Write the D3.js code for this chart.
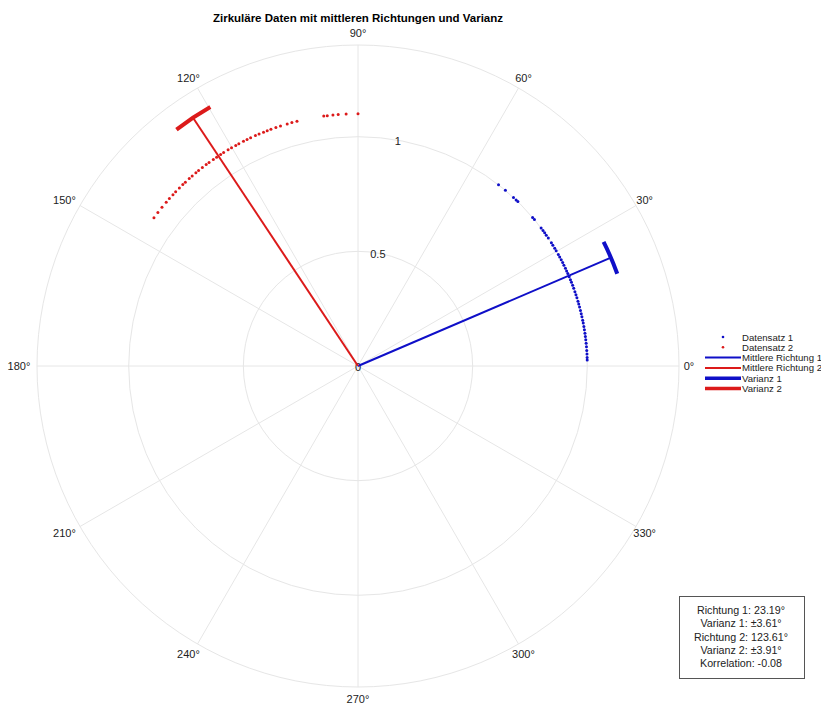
<!DOCTYPE html>
<meta charset="utf-8">
<head>
<title>Zirkuläre Daten</title>
<style>
body { margin: 0; background-color: #FFF; }
text { font-family: 'Liberation Sans', Arial, sans-serif; fill: #222; }
.grid { fill: none; stroke: #e6e6e6; stroke-width: 1px; }
.title { font-weight: bold; font-size: 11.5px; fill: #000; }
.angle-label { font-size: 11px; }
.r-label { font-size: 11px; }
.legend text { font-size: 9.6px; }
.info text { font-size: 10.7px; }
</style>
</head>
<body>
<script src="https://cdn.jsdelivr.net/npm/d3@7"></script>
<script>
// Datensatz 1 (Radius 1.0) und Datensatz 2 (Radius 1.1), Winkel in Grad
var angles1 = [52.2, 50.0, 47.3, 46.4, 45.8, 40.4, 39.7, 37.0, 36.2, 35.5, 34.8, 33.9, 32.5, 31.8,
               30.9, 30.2, 29.1, 28.4, 27.6, 26.8, 26.1, 25.2, 24.5, 23.8, 22.9, 22.1, 21.4, 20.6,
               19.8, 18.9, 18.1, 17.3, 16.4, 15.7, 14.9, 14.0, 13.2, 12.4, 11.5, 10.8, 9.9, 9.1,
               8.2, 7.4, 6.6, 5.7, 4.8, 3.9, 3.0, 2.1, 1.5];
var angles2 = [90.0, 92.7, 94.5, 95.7, 97.0, 97.8, 104.0, 105.2, 106.3, 107.9, 109.0, 110.2, 111.1,
               112.0, 113.1, 114.0, 115.2, 116.1, 117.0, 118.2, 119.0, 120.1, 121.0, 122.2, 123.0,
               124.1, 125.0, 126.2, 127.0, 128.1, 129.2, 130.0, 131.1, 132.0, 133.2, 134.0, 135.1,
               136.3, 137.2, 138.4, 139.5, 141.0, 142.5, 144.0];
var radius1 = 1.0, radius2 = 1.1;
var meanDir = [23.19, 123.61];
var variance = [3.61, 3.91];
var meanLen = [1.2, 1.3];
var seriesColors = ["#0f0fc8", "#dc1a1a"];
var legendLabels = ["Datensatz 1", "Datensatz 2", "Mittlere Richtung 1", "Mittlere Richtung 2", "Varianz 1", "Varianz 2"];
var infoLines = ["Richtung 1: 23.19°", "Varianz 1: ±3.61°", "Richtung 2: 123.61°", "Varianz 2: ±3.91°", "Korrelation: -0.08"];
var ringValues = [0.5, 1];
var ringLabels = ["0", "0.5", "1"];
var spokeAngles = d3.range(0, 360, 30);
var rMax = 1.4;

var width = 821, height = 703, cx = 358, cy = 366;
var svg = d3.select("body").append("svg").attr("width", width).attr("height", height);
var r = d3.scaleLinear().domain([0, rMax]).range([0, 321]);
var rad = function(deg){ return deg * Math.PI / 180; };
function px(a, v){ return cx + r(v) * Math.cos(rad(a)); }
function py(a, v){ return cy - r(v) * Math.sin(rad(a)); }

// grid
var g = svg.append("g");
g.selectAll("line.spoke").data(spokeAngles).enter().append("line")
  .attr("class", "grid")
  .attr("x1", cx).attr("y1", cy)
  .attr("x2", function(d){ return px(d, rMax); })
  .attr("y2", function(d){ return py(d, rMax); });
g.selectAll("circle.ring").data(ringValues.concat([rMax])).enter().append("circle")
  .attr("class", "grid").attr("cx", cx).attr("cy", cy)
  .attr("r", function(d){ return r(d); });

g.selectAll("text.angle-label").data(spokeAngles).enter().append("text")
  .attr("class", "angle-label")
  .attr("x", function(d){ return cx - 4 * Math.abs(Math.cos(rad(d))) + 335 * Math.cos(rad(d)); })
  .attr("y", function(d){ return cy - 333 * Math.sin(rad(d)); })
  .attr("text-anchor", "middle").attr("dominant-baseline", "central")
  .text(function(d){ return d + "°"; });

g.selectAll("text.r-label").data([0].concat(ringValues)).enter().append("text")
  .attr("class", "r-label")
  .attr("x", function(d){ return px(80, d); })
  .attr("y", function(d){ return py(80, d) + 1; })
  .attr("text-anchor", "middle").attr("dominant-baseline", "central")
  .text(function(d, i){ return ringLabels[i]; });

// mean direction lines
svg.selectAll("line.mean").data(meanDir).enter().append("line")
  .attr("x1", cx).attr("y1", cy)
  .attr("x2", function(d, i){ return px(d, meanLen[i]); })
  .attr("y2", function(d, i){ return py(d, meanLen[i]); })
  .attr("stroke", function(d, i){ return seriesColors[i]; })
  .attr("stroke-width", 2);

// variance arcs
svg.selectAll("path.var").data(meanDir).enter().append("path")
  .attr("d", function(d, i){
    var p = d3.path();
    p.arc(cx, cy, r(meanLen[i]), -rad(d + variance[i]), -rad(d - variance[i]), false);
    return p.toString();
  })
  .attr("fill", "none")
  .attr("stroke", function(d, i){ return seriesColors[i]; })
  .attr("stroke-width", 4);

// points
[[angles1, radius1], [angles2, radius2]].forEach(function(s, i){
  svg.append("g").selectAll("circle").data(s[0]).enter().append("circle")
    .attr("cx", function(d){ return px(d, s[1]); })
    .attr("cy", function(d){ return py(d, s[1]); })
    .attr("r", 1.5)
    .attr("fill", seriesColors[i]);
});

// title
svg.append("text").attr("class", "title")
  .attr("x", cx).attr("y", 22).attr("text-anchor", "middle")
  .text("Zirkuläre Daten mit mittleren Richtungen und Varianz");

// legend
var lg = svg.append("g").attr("class", "legend");
legendLabels.forEach(function(t, i){
  var y = 337 + i * 10.3, c = seriesColors[i % 2];
  if (i < 2) {
    lg.append("circle").attr("cx", 723).attr("cy", y).attr("r", 1.3).attr("fill", c);
  } else {
    lg.append("line").attr("x1", 705).attr("x2", 741).attr("y1", y).attr("y2", y)
      .attr("stroke", c).attr("stroke-width", i < 4 ? 2 : 3.5);
  }
  lg.append("text").attr("x", 742).attr("y", y).attr("dominant-baseline", "central").text(t);
});

// info box
var info = svg.append("g").attr("class", "info");
info.append("rect").attr("x", 679.5).attr("y", 596.5).attr("width", 125).attr("height", 82)
  .attr("fill", "#fff").attr("stroke", "#555").attr("stroke-width", 1);
info.selectAll("text").data(infoLines).enter().append("text")
  .attr("x", 741).attr("y", function(d, i){ return 610 + i * 13.3; })
  .attr("text-anchor", "middle").attr("dominant-baseline", "central")
  .text(function(d){ return d; });
</script>
</body>
